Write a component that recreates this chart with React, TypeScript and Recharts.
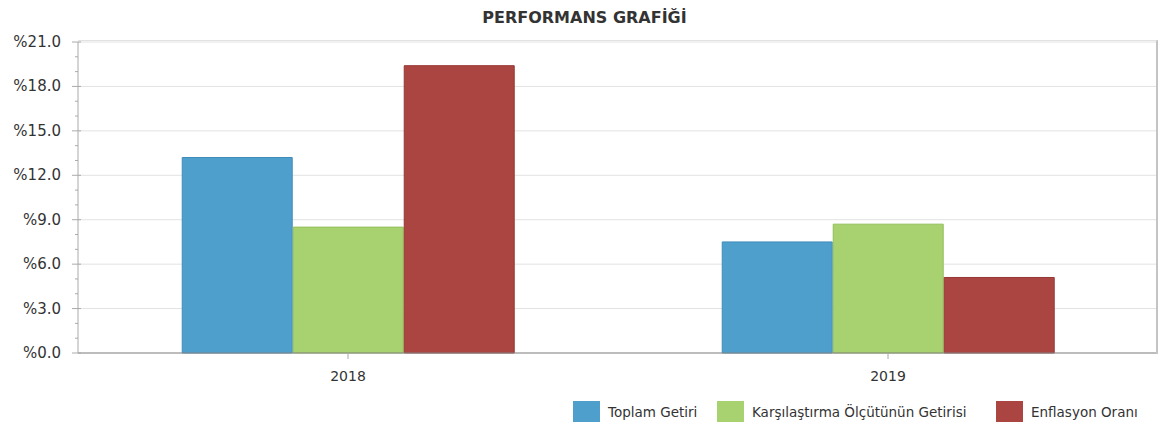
import React from "react";
import { BarChart, Bar, XAxis, YAxis, CartesianGrid } from "recharts";

const years = ["2018", "2019"];
const toplamGetiri = [13.2, 7.5];
const karsilastirma = [8.5, 8.7];
const enflasyon = [19.4, 5.1];

const yTicks = [0, 1, 2, 3, 4, 5, 6, 7, 8, 9, 10, 11, 12, 13, 14, 15, 16, 17, 18, 19, 20, 21];
const yMajor = [0, 3, 6, 9, 12, 15, 18, 21];

const series = [
  { key: "toplam", name: "Toplam Getiri", fill: "#4F9FCD", stroke: "#3F8CBA" },
  { key: "olcut", name: "Karşılaştırma Ölçütünün Getirisi", fill: "#A8D270", stroke: "#93BF5B" },
  { key: "enflasyon", name: "Enflasyon Oranı", fill: "#AA4542", stroke: "#963634" },
];

const data = years.map((y, i) => ({
  year: y,
  toplam: toplamGetiri[i],
  olcut: karsilastirma[i],
  enflasyon: enflasyon[i],
}));

const font = "'DejaVu Sans', sans-serif";

const YTick = (props: any) => {
  const { x, y, payload } = props;
  const axisX = x + 8;
  const major = yMajor.includes(payload.value);
  return (
    <g>
      <line x1={axisX - (major ? 6 : 3)} x2={axisX + (major ? 3 : 0)} y1={y} y2={y} stroke="#aaa" />
      {major && (
        <text x={axisX - 17} y={y} dy={5} textAnchor="end" fontSize={15} fill="#333" fontFamily={font}>
          {"%" + payload.value.toFixed(1)}
        </text>
      )}
    </g>
  );
};

const legendLeft = [573, 717, 996];

export default function App() {
  return (
    <div style={{ position: "absolute", left: 0, top: 0, width: 1161, height: 425, background: "#fff", fontFamily: font }}>
      <div style={{ position: "absolute", left: 0, width: 1161, top: 8, textAlign: "center", fontSize: 16, fontWeight: "bold", color: "#333", paddingLeft: 4 }}>
        PERFORMANS GRAFİĞİ
      </div>
      <BarChart
        width={1161}
        height={425}
        data={data}
        margin={{ top: 42, right: 3, left: 0, bottom: 42 }}
        barCategoryGap="19.3%"
        barGap={1}
      >
        <CartesianGrid vertical={false} stroke="#e2e2e2" horizontalValues={yMajor} />
        <XAxis
          dataKey="year"
          height={30}
          axisLine={{ stroke: "#888" }}
          tickLine={{ stroke: "#aaa" }}
          tickSize={6}
          tickMargin={12}
          tick={{ fontSize: 14, fill: "#333", fontFamily: font }}
        />
        <YAxis
          width={78}
          domain={[0, 21]}
          ticks={yTicks}
          interval={0}
          axisLine={{ stroke: "#aaa" }}
          tickLine={false}
          tickSize={6}
          tickMargin={2}
          tick={<YTick />}
        />
        {series.map((s) => (
          <Bar key={s.key} dataKey={s.key} name={s.name} fill={s.fill} stroke={s.stroke} strokeWidth={1} isAnimationActive={false} />
        ))}
      </BarChart>
      <div style={{ position: "absolute", left: 78, top: 40, width: 1078, height: 313, borderTop: "1px solid #e2e2e2", borderRight: "2px solid #c4c4c4", pointerEvents: "none" }} />
      {series.map((s, i) => (
        <div key={s.key} style={{ position: "absolute", left: legendLeft[i], top: 401, display: "flex", alignItems: "center", fontSize: 13.5, color: "#333" }}>
          <span style={{ display: "inline-block", width: 27, height: 21, background: s.fill, marginRight: 8 }} />
          <span>{s.name}</span>
        </div>
      ))}
    </div>
  );
}
